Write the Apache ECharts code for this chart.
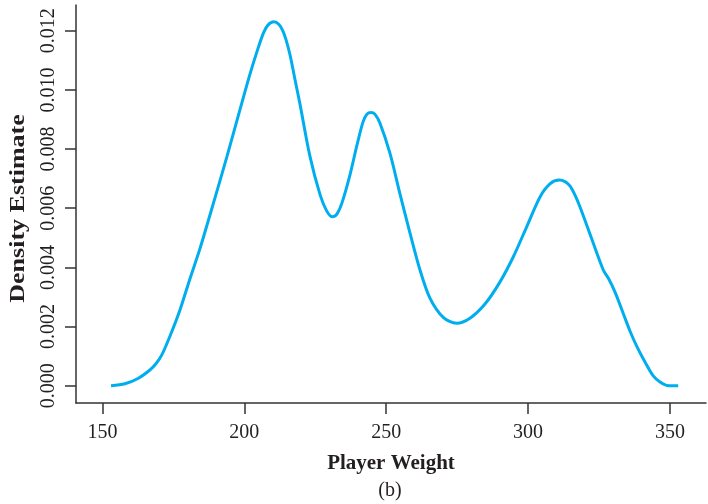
<!DOCTYPE html>
<html>
<head>
<meta charset="utf-8">
<script src="https://cdn.jsdelivr.net/npm/echarts@6/dist/echarts.min.js"></script>
<style>
html,body{margin:0;padding:0;background:#fff;}
#chart{width:708px;height:504px;}
</style>
</head>
<body>
<div id="chart"></div>
<script>
// Data
const weights = [153.0,157.9,162.5,166.7,168.9,170.9,173.8,177.3,180.8,184.4,189.0,193.8,198.5,202.0,204.5,206.7,208.3,210.4,212.2,213.6,214.7,216.1,217.8,219.6,223.1,226.7,229.0,231.0,232.6,234.4,237.2,239.7,241.8,243.2,244.6,246.0,247.8,251.3,254.8,258.4,261.9,265.4,270.1,274.8,279.5,284.8,290.1,294.8,299.5,304.2,307.7,311.0,313.0,314.8,316.5,318.3,321.8,326.5,328.3,330.6,333.5,335.9,338.4,341.2,344.1,346.5,349.0,352.9];
const density = [0.00000,0.000064,0.000243,0.00053,0.00075,0.00104,0.00168,0.00256,0.00361,0.00465,0.00614,0.00773,0.00935,0.01054,0.01131,0.01192,0.01219,0.01230,0.01221,0.01199,0.01169,0.01118,0.01037,0.00952,0.00776,0.00645,0.00591,0.00571,0.00580,0.00618,0.00712,0.00814,0.00891,0.00918,0.00924,0.00918,0.00887,0.00786,0.00650,0.00515,0.00391,0.00296,0.00231,0.00211,0.00228,0.00276,0.00351,0.00436,0.00537,0.00638,0.00682,0.00695,0.00690,0.00675,0.00645,0.00604,0.00513,0.00391,0.00363,0.00317,0.00245,0.00185,0.00131,0.00080,0.00033,0.000125,0.00001,0.00000];
const xTicks = [150,200,250,300,350];
const yTicks = [0,0.002,0.004,0.006,0.008,0.010,0.012];
const xTitle = 'Player Weight';
const yTitle = 'Density Estimate';
const caption = '(b)';

const FONT = '"Liberation Serif", "Times New Roman", serif';
const AX = '#333333';
const TXT = '#231f20';

const chart = echarts.init(document.getElementById('chart'), null, {renderer:'canvas'});
chart.setOption({
  animation: false,
  backgroundColor: '#fff',
  grid: {left: 76, right: 2, top: 5, bottom: 101, containLabel: false, outerBoundsMode: 'none'},
  xAxis: {
    type: 'value', min: 140.66, max: 362.7,
    splitLine: {show: false},
    axisLine: {show: true, onZero: false, lineStyle: {color: AX, width: 1.5}},
    axisTick: {show: true, customValues: xTicks, length: 11, lineStyle: {color: AX, width: 1.5}},
    axisLabel: {customValues: xTicks, fontFamily: FONT, fontSize: 20, color: TXT, margin: 20},
    name: xTitle, nameLocation: 'middle', nameGap: 50,
    nameTextStyle: {fontFamily: FONT, fontSize: 21, fontWeight: 'bold', color: TXT}
  },
  yAxis: {
    type: 'value', min: -0.000585, max: 0.01287,
    splitLine: {show: false},
    axisLine: {show: true, onZero: false, lineStyle: {color: AX, width: 1.5}},
    axisTick: {show: true, customValues: yTicks, length: 11, lineStyle: {color: AX, width: 1.5}},
    axisLabel: {customValues: yTicks, rotate: 90, fontFamily: FONT, fontSize: 20, color: TXT, margin: 17,
      formatter: v => v.toFixed(3)}
  },
  graphic: [{
    type: 'text', x: 19, y: 208.5, rotation: Math.PI / 2, scaleX: 1.3,
    style: {text: yTitle, font: 'bold 20px ' + FONT, fill: TXT, align: 'center', verticalAlign: 'middle'}
  }, {
    type: 'text', x: 390, y: 491,
    style: {text: caption, font: '20px ' + FONT, fill: TXT, align: 'center', verticalAlign: 'middle'}
  }],
  series: [{
    type: 'line',
    data: weights.map((w, i) => [w, density[i]]),
    smooth: 0.3,
    symbol: 'none',
    lineStyle: {color: '#00aeef', width: 3}
  }]
});
</script>
</body>
</html>
